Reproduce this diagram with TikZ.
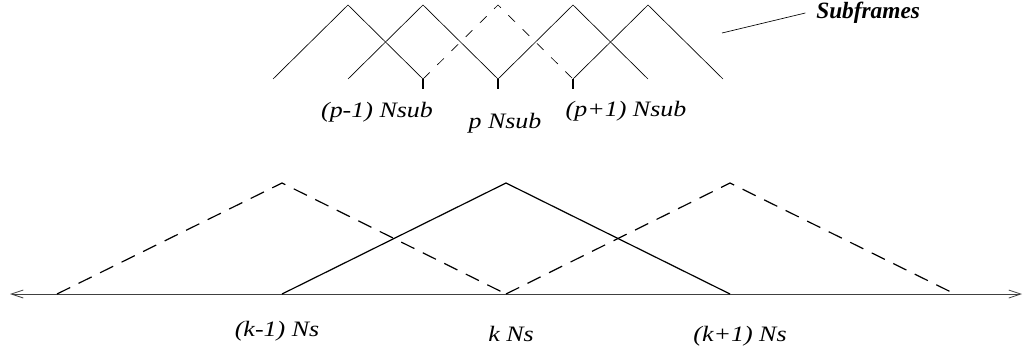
\documentclass[tikz,border=0pt]{standalone}
\usepackage{fontspec}
\setmainfont{Liberation Serif}
\usepackage{graphicx}
\usepackage{tikz}
\usetikzlibrary{arrows.meta,calc,positioning}
\newcommand{\widelab}[1]{\scalebox{1.18}[1]{#1}}
\tikzset{
  subtri/.style={line width=0.5pt, line join=miter},
  subdash/.style={subtri, dash pattern=on 7pt off 8pt},
  frtri/.style={line width=0.9pt},
  frdash/.style={frtri, dash pattern=on 11pt off 7pt},
  tick/.style={line width=0.8pt},
  axis/.style={{Straight Barb[length=9pt,width=6pt]}-{Straight Barb[length=9pt,width=6pt]}, line width=0.6pt, black!75},
  lab/.style={font=\fontsize{16.5}{16.5}\selectfont\itshape, inner sep=0pt},
  title/.style={font=\fontsize{17.5}{17.5}\selectfont\bfseries\itshape, inner sep=0pt},
}
\begin{document}
\begin{tikzpicture}[x=0.75pt,y=-0.75pt]
  \useasboundingbox (0,0) rectangle (1024,354);
  % --- subframes (top) ---
  \foreach \i in {0,1,3,4}
    \draw[subtri] (273+75*\i,79) -- (348+75*\i,5) -- (423+75*\i,79);
  \draw[subdash] (423,79) -- (498,5) -- (573,79);
  \foreach \x/\n in {423/pm,498/p,573/pp} {
    \coordinate (t\n) at (\x,79);
    \draw[tick] (t\n) -- ++(0,10);
  }
  \node[lab] (lpm) at (377,112) {\widelab{(p-1) Nsub}};
  \node[lab] (lp) at (505,123) {\widelab{p Nsub}};
  \node[lab] (lpp) at (626,111) {\widelab{(p+1) Nsub}};
  \node[title, anchor=west] (sub) at (816,13) {Subframes};
  \coordinate (subend) at (722,33);
  \draw[line width=0.5pt] (subend) -- ([xshift=-8pt]sub.west);
  % --- frames (bottom) ---
  \coordinate (ax0) at (10,294);
  \coordinate (ax1) at (1022,294);
  \draw[axis] (ax0) -- (ax1);
  \draw[frdash] (57,294) -- (282,183) -- (506,294);
  \draw[frtri] (282,294) -- (506,183) -- (730,294);
  \draw[frdash] (506,294) -- (730,183) -- (955,294);
  \node[lab] (lkm) at (277,331) {\widelab{(k-1) Ns}};
  \node[lab] (lk) at (511,334) {\widelab{k Ns}};
  \node[lab] (lkp) at (740,336) {\widelab{(k+1) Ns}};
\end{tikzpicture}
\end{document}
